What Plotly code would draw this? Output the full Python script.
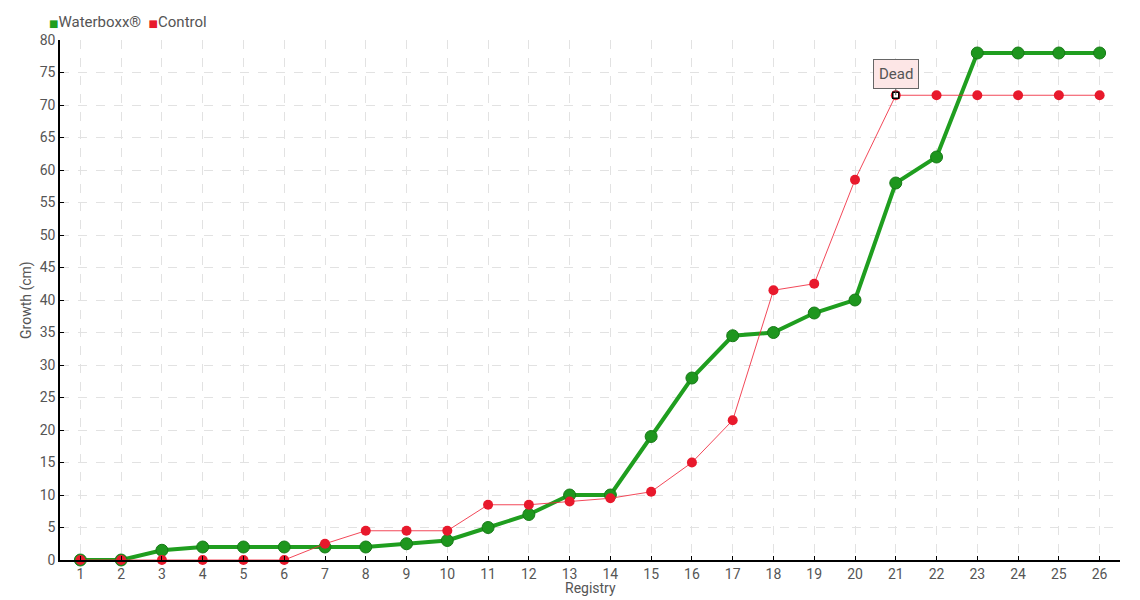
import plotly.graph_objects as go

registry = list(range(1, 27))
waterboxx = [0, 0, 1.5, 2, 2, 2, 2, 2, 2.5, 3, 5, 7, 10, 10, 19, 28, 34.5, 35, 38, 40, 58, 62, 78, 78, 78, 78]
control = [0, 0, 0, 0, 0, 0, 2.5, 4.5, 4.5, 4.5, 8.5, 8.5, 9, 9.5, 10.5, 15, 21.5, 41.5, 42.5, 58.5, 71.5, 71.5, 71.5, 71.5, 71.5, 71.5]
y_ticks = list(range(0, 85, 5))
dead_index = 20

FONT = "Roboto, DejaVu Sans, sans-serif"
GREEN = "#1f9e1f"
RED = "#e8192c"
TXT = "#555"

# page body has an 8px margin: shrink figure and margins so plot area lands at 60..1120 x 40..560
W, H = 1132, 592
ML, MR, MT, MB = 52, 20, 32, 40

fig = go.Figure()
fig.add_trace(go.Scatter(
    x=registry, y=waterboxx, mode="lines+markers", showlegend=False,
    line=dict(color=GREEN, width=4),
    marker=dict(color="#1e961e", size=12, line=dict(color="#167a16", width=1)),
    cliponaxis=False,
))
fig.add_trace(go.Scatter(
    x=registry, y=control, mode="lines+markers", showlegend=False,
    line=dict(color="rgba(240,40,60,0.85)", width=1),
    marker=dict(color=RED, size=10, line=dict(width=0)),
    cliponaxis=False,
))
fig.add_trace(go.Scatter(
    x=[registry[dead_index]], y=[control[dead_index]], mode="markers", showlegend=False,
    marker=dict(color="white", size=6, symbol="square", line=dict(color="black", width=1.5)),
    cliponaxis=False,
))

# legend as text
fig.add_annotation(
    xref="paper", yref="paper", x=-0.012, y=1.0, yshift=29, xanchor="left", yanchor="top",
    showarrow=False, align="left",
    text=(f"<span style='color:{GREEN};font-size:10px'>■</span>Waterboxx®  "
          f"<span style='color:{RED};font-size:10px'>■</span>Control"),
    font=dict(family=FONT, size=15, color=TXT),
)
# axis titles
fig.add_annotation(
    xref="paper", yref="paper", x=0.5, y=0, yshift=-28, xanchor="center", yanchor="middle",
    showarrow=False, text="Registry", font=dict(family=FONT, size=14, color=TXT),
)
fig.add_annotation(
    xref="paper", yref="paper", x=0, xshift=-34, y=0.5, xanchor="center", yanchor="middle",
    showarrow=False, text="Growth (cm)", textangle=-90, font=dict(family=FONT, size=14, color=TXT),
)

fig.add_annotation(
    x=registry[dead_index], y=control[dead_index], text="Dead",
    showarrow=True, arrowhead=0, arrowwidth=1, arrowcolor=TXT,
    ax=0, ay=-21, bgcolor="#fde6e6", bordercolor="#666", borderwidth=1,
    borderpad=5, font=dict(family=FONT, size=15, color=TXT),
)

fig.update_layout(
    width=W, height=H,
    margin=dict(l=ML, r=MR, t=MT, b=MB, autoexpand=False),
    plot_bgcolor="white", paper_bgcolor="white",
    font=dict(family=FONT, size=14, color=TXT),
    showlegend=False,
    xaxis=dict(
        range=[0.5, 26.5], tickvals=registry, ticktext=[str(v) for v in registry],
        showgrid=True, gridcolor="#e2e2e2", griddash="dash", gridwidth=1,
        showline=True, linecolor="black", linewidth=1.5,
        ticks="inside", ticklen=4, tickcolor="black",
        zeroline=False, tickfont=dict(size=14, color=TXT), automargin=False,
    ),
    yaxis=dict(
        range=[0, 80], tickvals=y_ticks,
        showgrid=True, gridcolor="#e2e2e2", griddash="dash", gridwidth=1,
        showline=True, linecolor="black", linewidth=1.5,
        ticks="inside", ticklen=4, tickcolor="black",
        zeroline=False, tickfont=dict(size=14, color=TXT), automargin=False,
    ),
)

fig.write_html("out.html")
